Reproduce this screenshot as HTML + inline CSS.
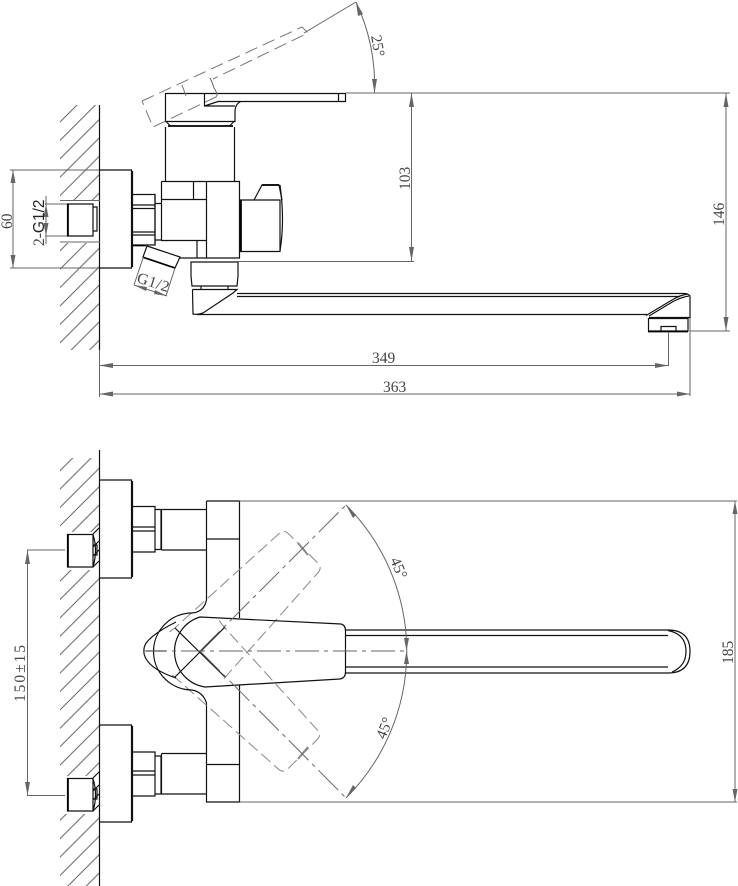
<!DOCTYPE html>
<html><head><meta charset="utf-8"><style>
html,body{margin:0;padding:0;background:#fff}
svg{display:block}
text{font-family:"Liberation Serif",serif;fill:#444;font-size:15.5px}
.k{fill:none;stroke:#111;stroke-width:1.2}
.t{fill:none;stroke:#000;stroke-width:1.7}
.d{fill:none;stroke:#666;stroke-width:1}
.a{fill:#666;stroke:none}
.h{fill:none;stroke:#777;stroke-width:1;stroke-dasharray:13 6}
</style></head><body>
<svg width="738" height="886" viewBox="0 0 738 886" xmlns="http://www.w3.org/2000/svg">
<defs>
<pattern id="p1" width="18.4" height="18.4" patternUnits="userSpaceOnUse" patternTransform="translate(60 122)"><path d="M-1,1 L1,-1 M0,18.4 L18.4,0 M17.4,19.4 L19.4,17.4" stroke="#666" stroke-width="1" fill="none"/></pattern>
<pattern id="p2" width="18.4" height="18.4" patternUnits="userSpaceOnUse" patternTransform="translate(60 470.7)"><path d="M-1,1 L1,-1 M0,18.4 L18.4,0 M17.4,19.4 L19.4,17.4" stroke="#666" stroke-width="1" fill="none"/></pattern>
<path id="hd" d="M192,616 L200,617 L341,624 Q345.5,625 345.5,631 L345.5,672 Q345.5,678 340,679 L205,687 L192,688"/>
</defs>
<rect width="738" height="886" fill="#fff"/>

<!-- hatching -->
<rect x="60" y="105" width="39" height="95" fill="url(#p1)"/>
<rect x="60" y="243" width="39" height="107" fill="url(#p1)"/>
<rect x="60" y="458" width="39" height="74" fill="url(#p2)"/>
<rect x="60" y="570" width="39" height="206" fill="url(#p2)"/>
<rect x="60" y="814" width="39" height="72" fill="url(#p2)"/>

<!-- ========== TOP VIEW ========== -->
<path class="k" d="M99.5,105V350" stroke-width="1.5"/>
<path class="d" d="M99.5,350V397"/>
<path class="k" d="M99.5,170H131.5V268H99.5M132.5,171V267"/>
<path class="k" d="M133,194.500H155V245H133M133,205H155M133,208.500H155M133,232H155M133,235H155"/>
<path class="t" d="M133,245.500H146"/>
<path class="k" d="M155,203.500H161M155,240H161M155,194.500V245"/>
<!-- body -->
<path class="k" d="M161.500,181.500H239.500V258H180M161.500,181.500V240.500H206.500M161.500,199.500H206.500M206.500,181.500V258M193.500,181.500V199.500M197,240.500V258"/>
<path class="k" d="M165.500,181V127M234.500,181V127"/>
<path class="t" d="M168,126H233"/>
<path class="k" d="M165.500,121L170,125.500M234.500,121L230,125.500"/>
<!-- handle -->
<path class="k" d="M165.500,93.500H345.500V101.500H241Q235,104 235,112V121.500H165.500ZM338.500,93.500V101.500M204.500,93.500V106H235M204.500,106L218,101.500H241"/>
<!-- dashed raised handle -->
<path class="h" d="M142,101L302,27L308,33L213,79M217,96.500L153,127L142,101M182,85L186,96"/>
<path class="d" d="M210,78Q213,84 214,88Q217,92 217,96"/>
<path class="d" d="M304,33L356,2"/>
<!-- knob -->
<path class="k" d="M240.500,200H280V251.500H240.500ZM254,200L262,185H279L282,200"/>
<path class="t" d="M241,200V251M262,185H279"/>
<path class="k" d="M280,185Q285,220 280,251"/>
<!-- g1/2 fitting -->
<path class="k" d="M147,246L180,257L175,268L143,257Z"/>
<path class="t" d="M143.500,257.500L175,268"/>
<path class="d" d="M143,258L134,285M175,268L166,296M134,285L167,296"/>
<path class="a" d="M134,285L147,287L146,291Z M167,296L154,294L155,290Z"/>
<text transform="translate(136 282) rotate(18)" font-size="14" textLength="33">G1/2</text>
<!-- nut -->
<path class="k" d="M191,262H238V276L237,286H192L191,276ZM201,286V289M228,286V289"/>
<!-- spout -->
<path class="k" d="M237,293.500H682Q688,293 690,296V318M237,296.500H680M197,314.500H647M192.500,289.500H237L233,293L218,303L203,313Q197,315 193,314L192.500,289.500"/>
<path class="k" d="M646,315.500L672,300Q680,295 688,294M649,316L674,301Q682,297 689,296M649,317.500H690"/>
<path class="k" d="M648.500,318.500H688V331H648.500Z"/><path class="t" d="M648,331.500H688"/>
<path class="k" d="M661,331V326.500H676V331"/>
<!-- wall fitting -->
<path class="k" d="M67.500,204H93V236H67.500ZM93,207H97V231H93"/><path class="t" d="M68,204V236"/>
<path class="d" d="M60,200.500H100M60,242H100M45,204H67M45,236H67"/>
<!-- dims -->
<path class="d" d="M10,170H99M10,268H99M13,170V268"/>
<path class="a" d="M13,170L10.500,183H15.500ZM13,268L10.500,255H15.500Z"/>
<path class="d" d="M46,196V244"/>
<path class="a" d="M46,204L43.500,217H48.500ZM46,236L43.500,223H48.500Z"/>
<text transform="translate(12 229) rotate(-90)" font-size="14">60</text>
<text transform="translate(44 246) rotate(-90)" font-size="14">2-<tspan style="font-family:'Liberation Sans',sans-serif;fill:#222">G1/2</tspan></text>

<path class="d" d="M345,93H730M238,261.500H414M411.500,93V261M726,93V331M690,331H730"/>
<path class="a" d="M411.500,93L409,107H414ZM411.500,261L409,247H414ZM726,93L723.500,107H728.500ZM726,331L723.500,317H728.500Z"/>
<text transform="translate(410 190) rotate(-90)">103</text>
<text transform="translate(724 226) rotate(-90)">146</text>
<path class="d" d="M99,365.500H668.500V332M99,394H690M690,318V396"/>
<path class="a" d="M99,365.500L113,363V368ZM668.500,365.500L655,363V368ZM99,394L113,391.500V396.500ZM690,394L677,391.500V396.500Z"/>
<text x="372" y="363">349</text>
<text x="383" y="392">363</text>
<!-- 25 arc -->
<path class="d" d="M356,2A197,197 0 0 1 374.500,93"/>
<path class="a" d="M356,2L363,14L358,16ZM374.500,93L372,79H377Z"/>
<text transform="translate(371 36) rotate(80)" font-size="14">25°</text>

<!-- ========== BOTTOM VIEW ========== -->
<path class="k" d="M99.500,450V886" stroke-width="1.5"/>
<path class="k" d="M99.500,480H131.500V578H99.500M132.500,481V577"/>
<path class="k" d="M99.500,725H131.500V822H99.500M132.500,726V821"/>
<path class="k" d="M133,506.500H155V552H133M133,527H155M133,531H155M155,506.500V552M155,509.500H161V549.500H155"/>
<path class="k" d="M133,752H155V796H133M133,771H155M133,775H155M155,752V796M155,756H161V794H155"/>
<path class="k" d="M161.500,509.500H206.500M161.500,550H206.500M161.500,509.500V550M161.500,753.500H206.500M161.500,794H206.500M161.500,753.500V794"/>
<path class="k" d="M206.500,501V600Q204,612 192,613M206.500,703V802H239.500V685M239.500,501V618M206.500,501H239.500M206.500,539H239.500M206.500,764.500H239.500M192,690Q203,692 206.500,703"/>
<!-- wall fittings -->
<path class="k" d="M67.500,534.500H93V567H67.500ZM93,534.500Q98,550 93,567M93,545H97V555H93M93,534L99,528M93,547L99,541M93,556L99,550M93,567L99,561"/>
<path class="t" d="M68,534.500V567"/>
<path class="k" d="M67.500,778.500H93V811H67.500ZM93,778.500Q98,795 93,811M93,789H97V799H93M93,778L99,772M93,791L99,785M93,800L99,794M93,811L99,805"/>
<path class="t" d="M68,778.500V811"/>
<!-- handle -->
<use href="#hd" fill="none" stroke="#888" stroke-width="1" stroke-dasharray="12 5" transform="rotate(-45 200 651)"/>
<use href="#hd" fill="none" stroke="#888" stroke-width="1" stroke-dasharray="12 5" transform="rotate(45 200 651)"/>
<path fill="none" stroke="#888" stroke-width="2" d="M298,543L308,555M298,759L308,747"/>
<path class="k" d="M200,617L341,624Q345.500,625 345.500,631V672Q345.500,678 340,679L205,687A36,36 0 0 1 200,617Z" stroke-width="1.1"/>
<path class="k" d="M192,613A38,38 0 0 0 192,690" stroke-width="1.1"/>
<path class="k" d="M176,622Q152,634 145.500,644Q142,651 145.500,658Q152,670 176,678M146,651H166"/>
<path class="k" d="M175,628L225,677" stroke="#555" stroke-width="1"/>
<path class="k" d="M175,677L225,627" stroke-width="1.1"/>
<!-- spout -->
<path class="k" d="M345.500,630H668Q690,630 690,651.500Q690,673 668,673H345.500M345.500,635.500H668M345.500,667H668M668,630.500Q686,634 686,651.500Q686,666 672,672"/>
<!-- axis -->
<path d="M143,651H408" fill="none" stroke="#666" stroke-width="1" stroke-dasharray="24 5 4 5"/>
<path d="M200,651L346,505" fill="none" stroke="#666" stroke-width="1" stroke-dasharray="28 5 4 5"/>
<path d="M200,651L346,798" fill="none" stroke="#666" stroke-width="1" stroke-dasharray="28 5 4 5"/>
<!-- arc -->
<path class="d" d="M346,505A207,207 0 0 1 346,798"/>
<path class="a" d="M346,505L356,515L353,518Z M346,798L356,788L353,785Z M406.500,651L404,638H409ZM406.500,651L404,664H409Z"/>
<text transform="translate(390 560) rotate(67)" font-size="15">45°</text>
<text transform="translate(385 740) rotate(-68)" font-size="15">45°</text>
<!-- dims -->
<path class="d" d="M239.500,501H737M239.500,802H737M735,501V802"/>
<path class="a" d="M735,501L732.500,514H737.500ZM735,802L732.500,789H737.500Z"/>
<text transform="translate(733 664) rotate(-90)">185</text>
<path class="d" d="M27,550H65M27,795.500H65M27.500,550V795.500"/>
<path class="a" d="M27.500,550L25,564H30ZM27.500,795.500L25,782H30Z"/>
<text transform="translate(25 702) rotate(-90)" textLength="57">150±15</text>
</svg>
</body></html>
